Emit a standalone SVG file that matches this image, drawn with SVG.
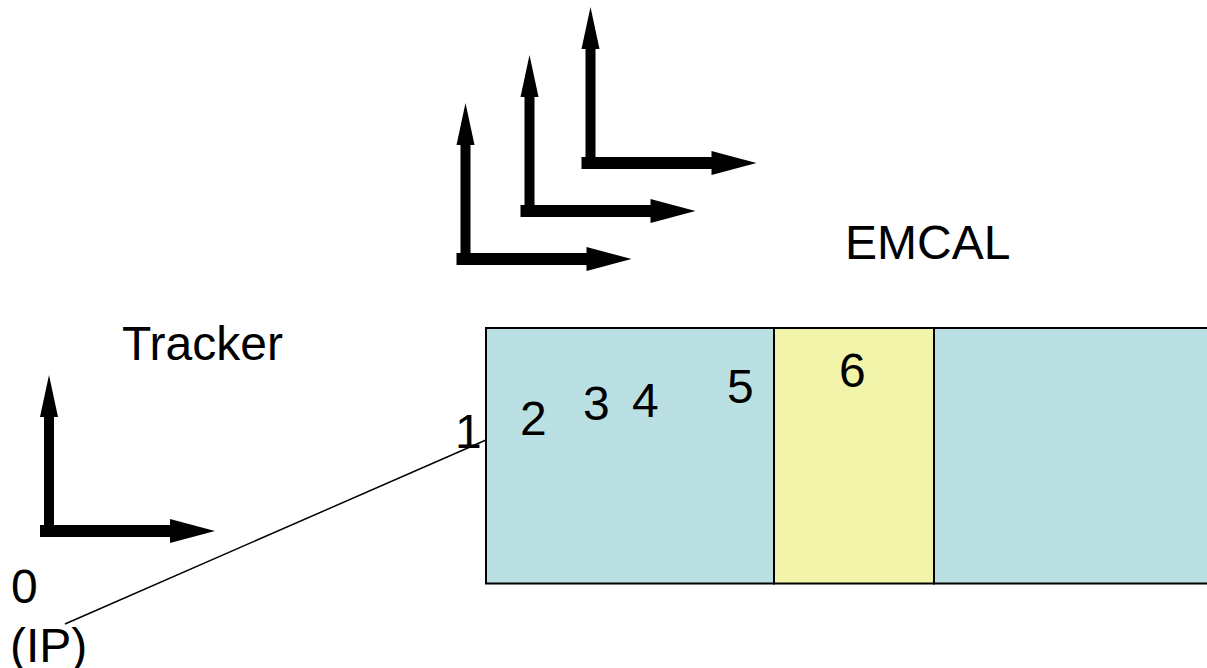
<svg xmlns="http://www.w3.org/2000/svg" xmlns:xlink="http://www.w3.org/1999/xlink" width="1207" height="668" viewBox="0 0 1207 668">
  <style>
    .lbl { font-family: "Liberation Sans", Arial, sans-serif; font-size: 48px; fill: #000; }
    .cell { stroke: #000; stroke-width: 2; }
    .blue { fill: #BBE0E3; }
    .yellow { fill: #F2F5A9; }
    .track { stroke: #000; stroke-width: 1.5; fill: none; }
  </style>
  <defs>
    <!-- coordinate frame: corner at origin, x axis to the right, y axis up -->
    <g id="frame">
      <rect x="-9" y="-6" width="131" height="12" fill="#000"/>
      <polygon points="121,-12 166,0 121,12" fill="#000"/>
      <rect x="-5" y="-115" width="10" height="121" fill="#000"/>
      <polygon points="-9,-114 0,-156 9,-114" fill="#000"/>
    </g>
  </defs>

  <rect width="1207" height="668" fill="#fff"/>

  <!-- calorimeter body -->
  <g id="emcal">
    <rect class="cell blue" x="486" y="328" width="288" height="255.5"/>
    <rect class="cell yellow" x="774" y="328" width="160" height="255.5"/>
    <rect class="cell blue" x="934" y="328" width="280" height="255.5"/>
    <text class="lbl" x="845" y="259">EMCAL</text>
  </g>

  <!-- tracker frame -->
  <g id="tracker">
    <use xlink:href="#frame" href="#frame" transform="translate(49,531)"/>
    <text class="lbl" x="122" y="360">Tracker</text>
  </g>

  <!-- frames along the shower -->
  <g id="frame-a"><use xlink:href="#frame" href="#frame" transform="translate(465.5,259)"/></g>
  <g id="frame-b"><use xlink:href="#frame" href="#frame" transform="translate(529.5,211)"/></g>
  <g id="frame-c"><use xlink:href="#frame" href="#frame" transform="translate(590.5,163)"/></g>

  <!-- track from the interaction point -->
  <g id="connectors">
    <line class="track" x1="65" y1="624" x2="486" y2="440"/>
  </g>

  <!-- point labels -->
  <g id="ip">
    <text class="lbl" x="11" y="603">0</text>
    <text class="lbl" x="10" y="662">(IP)</text>
  </g>
  <g id="points">
    <text class="lbl" x="455" y="448">1</text>
    <text class="lbl" x="520" y="435">2</text>
    <text class="lbl" x="583" y="420">3</text>
    <text class="lbl" x="632" y="417">4</text>
    <text class="lbl" x="727" y="403">5</text>
    <text class="lbl" x="839" y="387">6</text>
  </g>
</svg>
